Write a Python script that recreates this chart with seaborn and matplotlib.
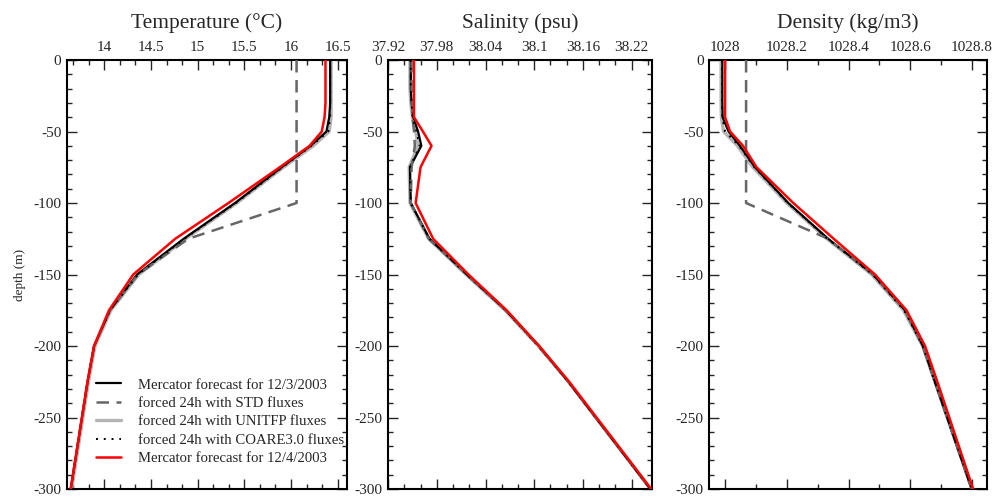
import numpy as np
import pandas as pd
import matplotlib
matplotlib.use('Agg')
import matplotlib.pyplot as plt
import matplotlib.ticker as ticker
import seaborn as sns

sns.set_style('ticks')
plt.rcParams['font.family'] = ['Liberation Serif', 'DejaVu Serif']
plt.rcParams['axes.unicode_minus'] = False

# depth levels (m)
depth = [0, 10, 20, 30, 40, 50, 60, 75, 100, 125, 150, 175, 200, 225, 300]

# temperature (deg C)
temp_m1203 = [16.42, 16.42, 16.42, 16.42, 16.41, 16.38, 16.21, 15.90, 15.40, 14.85, 14.35, 14.06, 13.89, 13.82, 13.64]
temp_std = [16.06, 16.06, 16.06, 16.06, 16.06, 16.06, 16.06, 16.06, 16.06, 14.90, 14.36, 14.06, 13.89, 13.82, 13.64]
temp_unitfp = [16.43, 16.43, 16.43, 16.43, 16.43, 16.41, 16.24, 15.92, 15.42, 14.87, 14.37, 14.07, 13.90, 13.83, 13.65]
temp_coare = [16.42, 16.42, 16.42, 16.42, 16.42, 16.40, 16.22, 15.91, 15.41, 14.86, 14.36, 14.06, 13.89, 13.82, 13.64]
temp_m1204 = [16.37, 16.37, 16.37, 16.37, 16.36, 16.33, 16.20, 15.88, 15.33, 14.76, 14.31, 14.05, 13.89, 13.82, 13.64]

# salinity (psu)
sal_m1203 = [37.948, 37.948, 37.948, 37.949, 37.951, 37.957, 37.961, 37.947, 37.948, 37.971, 38.017, 38.065, 38.106, 38.142, 38.243]
sal_std = [37.949, 37.949, 37.949, 37.950, 37.950, 37.952, 37.953, 37.949, 37.948, 37.970, 38.017, 38.065, 38.105, 38.142, 38.243]
sal_unitfp = [37.947, 37.947, 37.947, 37.948, 37.950, 37.954, 37.957, 37.946, 37.947, 37.970, 38.016, 38.064, 38.105, 38.142, 38.243]
sal_coare = [37.948, 37.948, 37.948, 37.949, 37.950, 37.955, 37.959, 37.947, 37.948, 37.971, 38.017, 38.065, 38.105, 38.142, 38.243]
sal_m1204 = [37.952, 37.952, 37.952, 37.952, 37.952, 37.963, 37.9735, 37.960, 37.954, 37.9755, 38.019, 38.066, 38.106, 38.143, 38.244]

# density (kg/m3)
dens_m1203 = [1027.991, 1027.991, 1027.991, 1027.991, 1027.992, 1028.011, 1028.048, 1028.097, 1028.205, 1028.334, 1028.480, 1028.583, 1028.641, 1028.680, 1028.799]
dens_std = [1028.068, 1028.068, 1028.068, 1028.068, 1028.068, 1028.068, 1028.068, 1028.068, 1028.068, 1028.334, 1028.480, 1028.583, 1028.641, 1028.680, 1028.799]
dens_unitfp = [1027.987, 1027.987, 1027.987, 1027.987, 1027.988, 1027.995, 1028.040, 1028.090, 1028.200, 1028.330, 1028.475, 1028.578, 1028.640, 1028.680, 1028.800]
dens_coare = [1027.990, 1027.990, 1027.990, 1027.990, 1027.991, 1028.000, 1028.045, 1028.095, 1028.203, 1028.332, 1028.478, 1028.580, 1028.641, 1028.680, 1028.800]
dens_m1204 = [1028.000, 1028.000, 1028.000, 1028.000, 1028.000, 1028.016, 1028.058, 1028.102, 1028.221, 1028.352, 1028.486, 1028.588, 1028.648, 1028.688, 1028.804]

labels = ['Mercator forecast for 12/3/2003', 'forced 24h with STD fluxes',
          'forced 24h with UNITFP fluxes', 'forced 24h with COARE3.0 fluxes',
          'Mercator forecast for 12/4/2003']

styles = {
    labels[0]: dict(color='black', lw=1.6, ls='-', zorder=3),
    labels[1]: dict(color='#666666', lw=1.8, ls=(0, (5, 3)), zorder=4),
    labels[2]: dict(color='#b4b4b4', lw=2.4, ls='-', zorder=2),
    labels[3]: dict(color='black', lw=1.4, ls=(0, (1, 3)), zorder=5),
    labels[4]: dict(color='red', lw=1.8, ls='-', zorder=6),
}

panels = [
    ('Temperature (°C)', [temp_m1203, temp_std, temp_unitfp, temp_coare, temp_m1204],
     (13.6, 16.6), np.arange(14, 16.51, 0.5), 0.5 / 3),
    ('Salinity (psu)', [sal_m1203, sal_std, sal_unitfp, sal_coare, sal_m1204],
     (37.92, 38.245), np.arange(37.92, 38.221, 0.06), 0.02),
    ('Density (kg/m3)', [dens_m1203, dens_std, dens_unitfp, dens_coare, dens_m1204],
     (1027.948, 1028.849), np.arange(1028, 1028.81, 0.2), 0.1),
]

positions = [[0.0672, 0.0141, 0.2808, 0.8649],
             [0.3892, 0.0141, 0.2648, 0.8649],
             [0.7112, 0.0141, 0.2788, 0.8649]]

fig = plt.figure(figsize=(9.97, 4.96), dpi=100)

for i, (title, series, xlim, majors, minor) in enumerate(panels):
    ax = fig.add_axes(positions[i])
    for lab, vals in zip(labels, series):
        st = styles[lab]
        df = pd.DataFrame({'x': vals, 'y': [-d for d in depth]})
        sns.lineplot(data=df, x='x', y='y', sort=False, estimator=None, ax=ax,
                     color=st['color'], lw=st['lw'], linestyle=st['ls'],
                     zorder=st['zorder'], label=lab)
    ax.set_xlim(*xlim)
    ax.set_ylim(-300, 0)
    ax.set_xticks(majors)
    ax.xaxis.set_major_formatter(ticker.FuncFormatter(lambda v, p: f'{v:g}'))
    ax.xaxis.set_minor_locator(ticker.MultipleLocator(minor))
    ax.set_yticks(range(0, -301, -50))
    ax.yaxis.set_minor_locator(ticker.MultipleLocator(10))
    ax.tick_params(which='both', direction='in', top=True, bottom=True,
                   left=True, right=True, labeltop=True, labelbottom=False,
                   labelsize=11, pad=4, width=1.0)
    ax.tick_params(which='major', length=7)
    ax.tick_params(which='minor', length=3.5)
    for sp in ax.spines.values():
        sp.set_linewidth(1.5)
        sp.set_color('black')
    ax.set_xlabel('')
    ax.set_ylabel('')
    ax.set_title(title, fontsize=15.5, pad=10)
    if i == 0:
        ax.set_ylabel('depth (m)', fontsize=9.5, labelpad=5)
        leg = ax.legend(loc='lower left', bbox_to_anchor=(0.105, 0.055),
                        frameon=False, fontsize=10.6, handlelength=1.7,
                        handletextpad=1.1, labelspacing=0.35, borderpad=0,
                        borderaxespad=0)
    else:
        ax.get_legend().remove()

fig.savefig('out.png', dpi=100)
